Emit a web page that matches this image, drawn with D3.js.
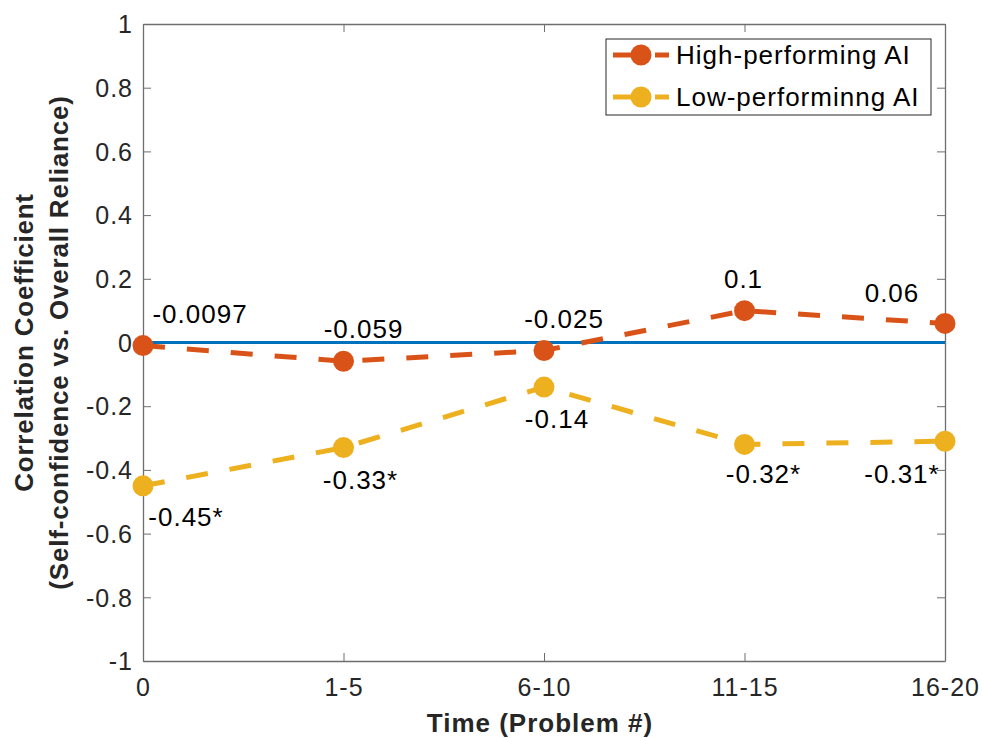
<!DOCTYPE html>
<html>
<head>
<meta charset="utf-8">
<script src="https://cdn.jsdelivr.net/npm/d3@7"></script>
<style>
    body { margin: 0; background: #fff; }
    text { font-family: Helvetica, Arial, "Liberation Sans", sans-serif; }
</style>
</head>
<body>
<div id="chart"></div>
<script>
// data
const categories = ["0", "1-5", "6-10", "11-15", "16-20"];
const highValues = [-0.0097, -0.059, -0.025, 0.1, 0.06];
const lowValues = [-0.45, -0.33, -0.14, -0.32, -0.31];
const highLabels = ["-0.0097", "-0.059", "-0.025", "0.1", "0.06"];
const lowLabels = ["-0.45*", "-0.33*", "-0.14", "-0.32*", "-0.31*"];
const yTicks = [-1, -0.8, -0.6, -0.4, -0.2, 0, 0.2, 0.4, 0.6, 0.8, 1];
const seriesNames = ["High-performing AI", "Low-performinng AI"];

// label nudges (px) so the text sits like the original
const highOffsets = [[57, -23], [20, -23], [20, -22], [-1, -23], [-53, -21]];
const lowOffsets = [[43, 40], [17, 41], [13, 41], [19, 39], [-43, 42]];

const colors = { high: "#D95319", low: "#EDB120", zero: "#0072BD" };

const margin = { top: 24, right: 37, bottom: 77, left: 143 };
const width = 982 - margin.left - margin.right;
const height = 738 - margin.top - margin.bottom;

const svg = d3.select("#chart").append("svg")
    .attr("width", 982)
    .attr("height", 738)
    .append("g")
    .attr("transform", "translate(" + margin.left + "," + margin.top + ")");

// scales
const x = d3.scalePoint()
    .domain(categories)
    .range([0, width]);

const y = d3.scaleLinear()
    .domain([-1, 1])
    .range([height, 0]);

const tickColor = "#262626";
const boxColor = "#6e6e6e";

// plain hyphen for negatives, like the original
const fmt = d => String(+d.toFixed(1));

// axes (ticks inside, MATLAB style)
const xAxis = d3.axisBottom(x).tickSizeInner(-8).tickSizeOuter(0).tickPadding(17);
const yAxis = d3.axisLeft(y).tickValues(yTicks).tickSizeInner(-8).tickSizeOuter(0).tickPadding(10)
    .tickFormat(fmt);

const gx = svg.append("g")
    .attr("transform", "translate(0," + height + ")")
    .call(xAxis);
const gy = svg.append("g").call(yAxis);

// mirrored axes on top and right
const gxTop = svg.append("g").call(d3.axisTop(x).tickSizeInner(-8).tickSizeOuter(0).tickFormat(""));
const gyRight = svg.append("g")
    .attr("transform", "translate(" + width + ",0)")
    .call(d3.axisRight(y).tickValues(yTicks).tickSizeInner(-8).tickSizeOuter(0).tickFormat(""));

[gx, gy, gxTop, gyRight].forEach(function (g) {
    g.select(".domain").attr("stroke", boxColor).attr("stroke-width", 1.3);
    g.selectAll(".tick line").attr("stroke", boxColor).attr("stroke-width", 1);
    g.selectAll(".tick text")
        .attr("fill", tickColor)
        .style("font-size", "25px")
        .style("letter-spacing", "1px");
});
gy.selectAll(".tick text").attr("dy", "0.35em");

// zero reference line
svg.append("line")
    .attr("x1", 0)
    .attr("x2", width)
    .attr("y1", y(0))
    .attr("y2", y(0))
    .attr("stroke", colors.zero)
    .attr("stroke-width", 3);

const line = d3.line()
    .x((d, i) => x(categories[i]))
    .y(d => y(d));

function drawSeries(values, color) {
    svg.append("path")
        .datum(values)
        .attr("d", line)
        .attr("fill", "none")
        .attr("stroke", color)
        .attr("stroke-width", 5)
        .attr("stroke-dasharray", "22,22");

    svg.selectAll(null)
        .data(values)
        .enter()
        .append("circle")
        .attr("cx", (d, i) => x(categories[i]))
        .attr("cy", d => y(d))
        .attr("r", 10.5)
        .attr("fill", color);
}

drawSeries(highValues, colors.high);
drawSeries(lowValues, colors.low);

function drawLabels(values, labels, offsets) {
    svg.selectAll(null)
        .data(values)
        .enter()
        .append("text")
        .attr("x", (d, i) => x(categories[i]) + offsets[i][0])
        .attr("y", (d, i) => y(d) + offsets[i][1])
        .attr("text-anchor", "middle")
        .attr("fill", "#000")
        .style("font-size", "26px")
        .style("letter-spacing", "1px")
        .text((d, i) => labels[i]);
}

drawLabels(highValues, highLabels, highOffsets);
drawLabels(lowValues, lowLabels, lowOffsets);

// axis titles
svg.append("text")
    .attr("x", width / 2 - 4)
    .attr("y", height + 71)
    .attr("text-anchor", "middle")
    .attr("fill", tickColor)
    .style("font-size", "26px")
    .style("letter-spacing", "1px")
    .style("font-weight", "bold")
    .text("Time (Problem #)");

const yTitle = svg.append("text")
    .attr("transform", "translate(" + (-margin.left) + "," + (height / 2) + ") rotate(-90)")
    .attr("text-anchor", "middle")
    .attr("fill", tickColor)
    .style("font-size", "26px")
    .style("letter-spacing", "0.8px")
    .style("font-weight", "bold");
yTitle.append("tspan").attr("x", 0).attr("y", 33).text("Correlation Coefficient");
yTitle.append("tspan").attr("x", 0).attr("y", 68).text("(Self-confidence vs. Overall Reliance)");

// legend
const legend = svg.append("g")
    .attr("transform", "translate(" + (606 - margin.left) + "," + (39 - margin.top) + ")");

legend.append("rect")
    .attr("width", 325)
    .attr("height", 76)
    .attr("fill", "#fff")
    .attr("stroke", tickColor)
    .attr("stroke-width", 1);

[colors.high, colors.low].forEach(function (c, i) {
    const cy = 16 + i * 42;
    legend.append("line")
        .attr("x1", 7).attr("x2", 64)
        .attr("y1", cy).attr("y2", cy)
        .attr("stroke", c)
        .attr("stroke-width", 5)
        .attr("stroke-dasharray", "34,8,14");
    legend.append("circle")
        .attr("cx", 35).attr("cy", cy)
        .attr("r", 10.5)
        .attr("fill", c);
    legend.append("text")
        .attr("x", 70)
        .attr("y", cy)
        .attr("dy", "0.35em")
        .attr("fill", "#000")
        .style("font-size", "26px")
        .style("letter-spacing", "1px")
        .text(seriesNames[i]);
});
</script>
</body>
</html>
